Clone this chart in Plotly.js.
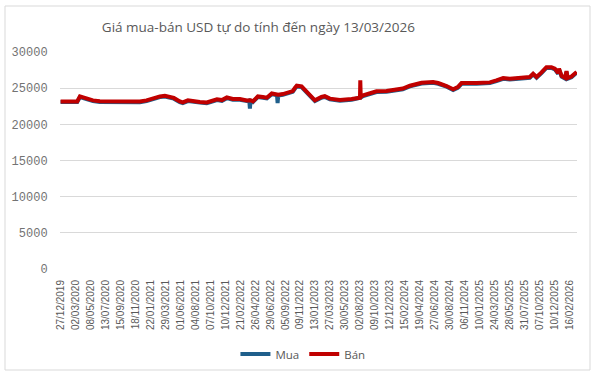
<!DOCTYPE html>
<html>
<head>
<meta charset="utf-8">
<script src="https://cdn.plot.ly/plotly-3.0.1.min.js"></script>
<style>
html,body{margin:0;padding:0;background:#fff;}
#chart{width:594px;height:380px;}
</style>
</head>
<body>
<div id="chart"></div>
<script>
// Category tick labels (evenly spaced on the category axis)
const tickLabels = ["27/12/2019","02/03/2020","08/05/2020","13/07/2020","15/09/2020","18/11/2020",
"22/01/2021","29/03/2021","01/06/2021","04/08/2021","07/10/2021","10/12/2021",
"21/02/2022","26/04/2022","29/06/2022","05/09/2022","09/11/2022","13/01/2023",
"27/03/2023","30/05/2023","02/08/2023","09/10/2023","12/12/2023","15/02/2024",
"19/04/2024","27/06/2024","30/08/2024","06/11/2024","10/01/2025","24/03/2025",
"28/05/2025","31/07/2025","07/10/2025","10/12/2025","16/02/2026"];

// Position of each sample along the category axis (in units of tick-label intervals)
const pos = [0, 1.11, 1.29, 1.55, 2.16, 2.62, 5.29, 5.74, 6.16, 6.63, 6.96, 7.3, 7.56, 7.96, 8.16, 8.5, 8.83, 9.3, 9.76, 10.17, 10.44, 10.77, 11.1, 11.5, 11.97, 12.44, 12.6, 12.64, 12.68, 12.84, 13.17, 13.5, 13.77, 14.1, 14.45, 14.49, 14.53, 14.84, 15.31, 15.5, 15.64, 15.77, 16.09, 16.31, 16.53, 16.98, 17.42, 17.64, 17.98, 18.65, 19.43, 19.87, 19.99, 20.01, 20.04, 20.2, 20.65, 21.09, 21.76, 22.43, 22.85, 23.32, 23.76, 24.1, 24.87, 25.21, 25.77, 26.21, 26.52, 26.77, 27.77, 28.66, 29.1, 29.55, 29.99, 30.44, 31.33, 31.55, 31.78, 32.11, 32.44, 32.77, 33.0, 33.22, 33.28, 33.45, 33.67, 33.78, 33.86, 34.11, 34.27, 34.46];

const ban = [23170, 23170, 23860, 23700, 23310, 23200, 23170, 23310, 23590, 23860, 23950, 23770, 23650, 23170, 23030, 23310, 23170, 23100, 23030, 23260, 23450, 23350, 23720, 23500, 23500, 23310, 23330, 23350, 23330, 23170, 23860, 23770, 23680, 24270, 24100, 24080, 24080, 24180, 24550, 24600, 25020, 25340, 25250, 24790, 24240, 23310, 23780, 23900, 23550, 23350, 23500, 23650, 23680, 26080, 23800, 24000, 24330, 24560, 24600, 24790, 24950, 25340, 25500, 25750, 25850, 25710, 25300, 24850, 25150, 25700, 25700, 25800, 26080, 26400, 26300, 26400, 26540, 27000, 26550, 27180, 27900, 27900, 27700, 27100, 27700, 26700, 26450, 27350, 26400, 26600, 26900, 27250];

const mua = [23080, 23080, 23760, 23600, 23210, 23100, 23070, 23210, 23490, 23760, 23850, 23670, 23550, 23070, 22930, 23210, 23070, 23000, 22930, 23160, 23350, 23250, 23620, 23400, 23400, 23210, 23230, 22160, 23230, 23070, 23760, 23670, 23580, 24170, 24000, 22950, 23980, 24080, 24450, 24500, 24920, 25240, 25150, 24690, 24140, 23210, 23680, 23800, 23450, 23250, 23400, 23550, 23580, 23600, 23700, 23900, 24230, 24460, 24500, 24690, 24850, 25240, 25400, 25650, 25750, 25610, 25200, 24750, 25050, 25600, 25600, 25700, 25980, 26300, 26200, 26300, 26440, 26900, 26450, 27080, 27800, 27800, 27600, 27000, 27600, 26600, 26350, 27250, 26300, 26500, 26800, 27150];

const yTicks = [0, 5000, 10000, 15000, 20000, 25000, 30000];

const traces = [
  {x: pos, y: mua, name: "Mua", type: "scatter", mode: "lines",
   line: {color: "#1F5F8B", width: 4}},
  {x: pos, y: ban, name: "Bán", type: "scatter", mode: "lines",
   line: {color: "#C00000", width: 4}}
];

const layout = {
  width: 594, height: 380,
  margin: {l: 60, r: 17, t: 52, b: 111},
  paper_bgcolor: "#fff", plot_bgcolor: "#fff",
  title: {text: "Giá mua-bán USD tự do tính đến ngày 13/03/2026",
          font: {family: "Open Sans, sans-serif", size: 13.5, color: "#595959"},
          xref: "container", x: 0.435, xanchor: "center",
          yref: "container", y: 1 - 27/380, yanchor: "middle"},
  xaxis: {range: [-0.04, 34.48], tickmode: "array",
          tickvals: tickLabels.map((_, i) => i), ticktext: tickLabels,
          tickangle: -90, showgrid: false, zeroline: false,
          showline: false, ticks: "outside", ticklen: 6, tickcolor: "rgba(0,0,0,0)",
          tickfont: {family: "Liberation Sans, sans-serif", size: 10, color: "#595959"}},
  yaxis: {range: [0, 30000], tickmode: "array", tickvals: yTicks,
          ticktext: yTicks.map(String), showgrid: true, gridcolor: "#D9D9D9", gridwidth: 1,
          zeroline: false, showline: false, ticks: "outside", ticklen: 9, tickcolor: "rgba(0,0,0,0)",
          tickfont: {family: "'Liberation Mono', 'DejaVu Sans Mono', monospace", size: 12, color: "#737373"}},
  showlegend: true,
  legend: {orientation: "h", xref: "container", x: 0.51, xanchor: "center",
           yref: "container", y: 1 - 354/380, yanchor: "middle",
           font: {family: "Open Sans, sans-serif", size: 11.5, color: "#595959"},
           itemwidth: 30, tracegroupgap: 0},
  shapes: [{type: "rect", xref: "paper", yref: "paper",
            x0: (5-60)/517, x1: (590-60)/517, y0: -(370-269)/217, y1: (269-6)/217,
            line: {color: "#D9D9D9", width: 1}, fillcolor: "rgba(0,0,0,0)", layer: "below"}]
};

Plotly.newPlot("chart", traces, layout, {staticPlot: true, displayModeBar: false});
</script>
</body>
</html>
